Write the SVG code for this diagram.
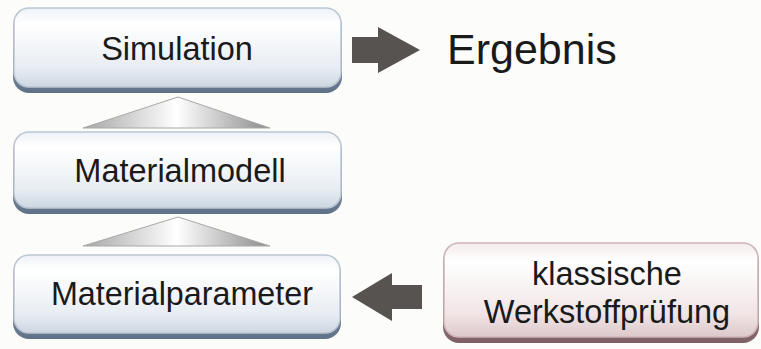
<svg xmlns="http://www.w3.org/2000/svg" width="761" height="349" viewBox="0 0 761 349">
<defs>
<linearGradient id="gBlue" x1="0" y1="0" x2="0" y2="1">
<stop offset="0" stop-color="#eef2f7"/>
<stop offset="0.2" stop-color="#ffffff"/>
<stop offset="0.75" stop-color="#e8edf3"/>
<stop offset="1" stop-color="#cdd7e2"/>
</linearGradient>
<linearGradient id="gBlueShadow" x1="0" y1="0" x2="0" y2="1">
<stop offset="0" stop-color="#b0bccb"/>
<stop offset="1" stop-color="#5f7187"/>
</linearGradient>
<linearGradient id="gPink" x1="0" y1="0" x2="0" y2="1">
<stop offset="0" stop-color="#f5ecec"/>
<stop offset="0.2" stop-color="#ffffff"/>
<stop offset="0.75" stop-color="#f1e5e6"/>
<stop offset="1" stop-color="#dcc8ca"/>
</linearGradient>
<linearGradient id="gPinkShadow" x1="0" y1="0" x2="0" y2="1">
<stop offset="0" stop-color="#c8abaf"/>
<stop offset="1" stop-color="#7e5f65"/>
</linearGradient>
<linearGradient id="gTri" x1="0" y1="0" x2="1" y2="0">
<stop offset="0" stop-color="#a5a5a5"/>
<stop offset="0.5" stop-color="#ffffff"/>
<stop offset="1" stop-color="#8a8a8a"/>
</linearGradient>
</defs>
<style>
.lbl{font-family:"Liberation Sans",Arial,sans-serif;fill:#1a1a1a;text-anchor:middle}
.box{fill:url(#gBlue);stroke:#bcc6d2;stroke-width:1.5}
.boxs{fill:url(#gBlueShadow)}
.pbox{fill:url(#gPink);stroke:#cdb5b8;stroke-width:1.5}
.pboxs{fill:url(#gPinkShadow)}
.tri{fill:url(#gTri);stroke:#a8a8a8;stroke-width:1}
.arr{fill:#575350}
</style>
<rect width="761" height="349" fill="#fcfcfa"/>

<g id="simulation">
<rect class="boxs" x="13" y="10" width="329" height="83" rx="16"/>
<rect class="box" x="14" y="8" width="327" height="79" rx="15"/>
<text class="lbl" x="177" y="60" font-size="32.5">Simulation</text>
</g>

<g id="materialmodell">
<rect class="boxs" x="13" y="134" width="329" height="80" rx="16"/>
<rect class="box" x="14" y="132" width="327" height="76" rx="15"/>
<text class="lbl" x="180" y="182" font-size="32.5">Materialmodell</text>
</g>

<g id="materialparameter">
<rect class="boxs" x="13" y="257" width="328" height="82" rx="16"/>
<rect class="box" x="14" y="255" width="326" height="78" rx="15"/>
<text class="lbl" x="182" y="305" font-size="32.3">Materialparameter</text>
</g>

<g id="werkstoffpruefung">
<rect class="pboxs" x="443" y="245" width="316" height="98" rx="16"/>
<rect class="pbox" x="444" y="243" width="314" height="94" rx="15"/>
<text class="lbl" x="607" y="285" font-size="32.5">klassische</text>
<text class="lbl" x="607" y="323" font-size="32.5">Werkstoffprüfung</text>
</g>

<g id="ergebnis">
<text x="447" y="64" font-family="Liberation Sans, Arial, sans-serif" font-size="43" fill="#1a1a1a">Ergebnis</text>
</g>

<g id="connectors">
<polygon class="tri" points="178,97 270,128 83,128"/>
<polygon class="tri" points="178,217 270,246 83,246"/>
<polygon class="arr" points="352,37 378,37 378,27 420,50 378,73 378,63 352,63"/>
<polygon class="arr" points="352,297 392,273 392,285 422,285 422,309 392,309 392,321"/>
</g>
</svg>
